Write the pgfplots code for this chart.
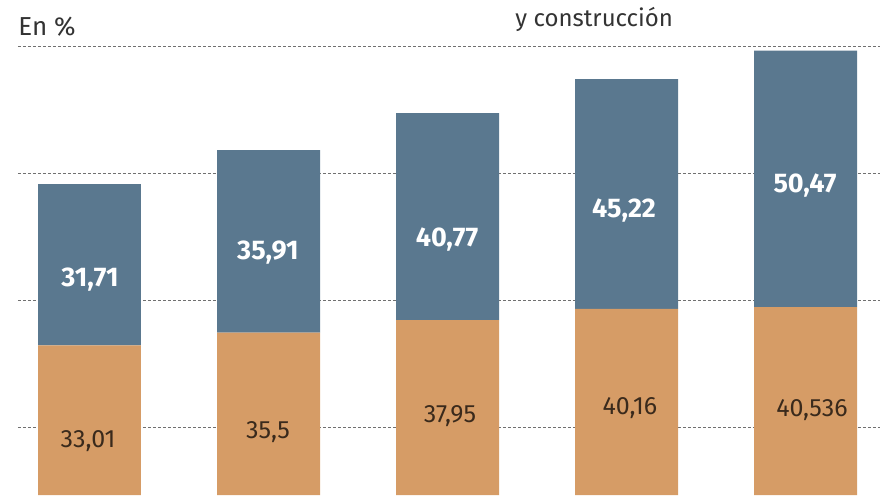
\documentclass[border=0pt]{standalone}
\usepackage{pgfplots}
\pgfplotsset{compat=1.18}
\usepackage{fontspec}
\setmainfont{Fira Sans}
\definecolor{barblue}{HTML}{5A788F}
\definecolor{barorange}{HTML}{D69C66}
\definecolor{txtdark}{HTML}{333333}
\definecolor{txtbrown}{HTML}{3A2A1C}
\definecolor{gridgray}{HTML}{707070}
\begin{document}
\begin{tikzpicture}
\pgfplotsset{base/.style={
  scale only axis, width=440pt, height=247.5pt,
  xmin=-0.5, xmax=4.4162, ymin=3.543, ymax=100.98,
  hide axis, anchor=south west, at={(0,0)}}}
% gridlines
\begin{axis}[base]
\addplot[gridgray, line width=0.6pt, dash pattern=on 1.5pt off 1pt] coordinates {(-0.4,16.8) (4.5,16.8)};
\addplot[gridgray, line width=0.6pt, dash pattern=on 1.5pt off 1pt] coordinates {(-0.4,41.8) (4.5,41.8)};
\addplot[gridgray, line width=0.6pt, dash pattern=on 1.5pt off 1pt] coordinates {(-0.4,66.8) (4.5,66.8)};
\addplot[gridgray, line width=0.6pt, dash pattern=on 1.5pt off 1pt] coordinates {(-0.4,91.8) (4.5,91.8)};
\end{axis}
% bars
\begin{axis}[base, ybar stacked, bar width=0.5754]
\addplot[fill=barorange, draw=none] coordinates {(0,33.01) (1,35.5) (2,37.95) (3,40.16) (4,40.536)};
\addplot[fill=barblue, draw=none] coordinates {(0,31.71) (1,35.91) (2,40.77) (3,45.22) (4,50.47)};
\end{axis}
% labels
\begin{axis}[base]
\addplot[draw=none] coordinates {(0,50)};
\tikzset{bl/.style={font=\fontsize{13.5}{15}\selectfont\bfseries, text=white},
         ol/.style={font=\fontsize{12.5}{14}\selectfont, text=txtbrown}}
\node[bl] at (axis cs:0.003,45.87) {31,71};
\node[bl] at (axis cs:0.997,51.18) {35,91};
\node[bl] at (axis cs:1.997,53.74) {40,77};
\node[bl] at (axis cs:2.986,59.45) {45,22};
\node[bl] at (axis cs:3.997,64.37) {50,47};
\node[ol] at (axis cs:-0.008,14.17) {33,01};
\node[ol] at (axis cs:0.997,15.94) {35,5};
\node[ol] at (axis cs:2.014,19.09) {37,95};
\node[ol] at (axis cs:3.019,20.67) {40,16};
\node[ol] at (axis cs:4.036,20.28) {40,536};
\node[anchor=base west, inner sep=0pt, text=txtdark, font=\fontsize{13}{15}\selectfont] at (axis cs:-0.3994,93.9) {En \%};
\node[anchor=base west, inner sep=0pt, text=txtdark, font=\fontsize{12}{14}\selectfont] at (axis cs:2.377,95.67) {y construcción};
\end{axis}
\pgfresetboundingbox
\useasboundingbox (0,0) rectangle (440pt,247.5pt);
\end{tikzpicture}
\end{document}
